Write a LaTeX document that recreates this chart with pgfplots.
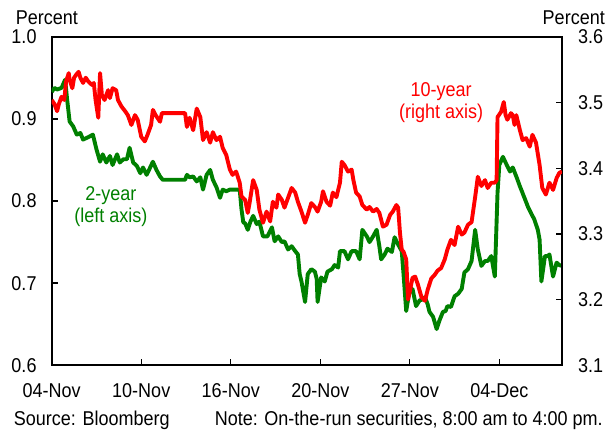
\documentclass[border=0pt]{standalone}
\usepackage{fontspec}
\setmainfont{Liberation Sans}[FakeStretch=0.9]
\usepackage{pgfplots}
\pgfplotsset{compat=1.18}
\newcommand{\chartfont}{\fontsize{20bp}{22bp}\selectfont}
\definecolor{tenred}{RGB}{255,0,0}
\definecolor{twogreen}{RGB}{0,128,0}

\begin{document}
\begin{tikzpicture}
\pgfplotsset{
  every axis/.append style={
    scale only axis, width=510bp, height=328bp,
    xmin=0, xmax=5.70,
    font=\chartfont,
    tick align=inside,
    major tick length=6bp,
    tick style={line width=1.4bp, black},
    axis line style={line width=1.8bp},
    /pgf/number format/assume math mode=true,
  },
}
% left axis: 2-year
\begin{axis}[
  ymin=0.6, ymax=1.0,
  xtick={0,1,2,3,4,5},
  xticklabels={04-Nov,10-Nov,16-Nov,20-Nov,27-Nov,04-Dec},
  ytick={0.6,0.7,0.8,0.9,1.0},
  xtick pos=left, ytick pos=left,
  yticklabel style={/pgf/number format/.cd, fixed, fixed zerofill, precision=1, /tikz/.cd,
    anchor=east, inner sep=0pt, xshift=-15bp},
  xticklabel style={anchor=base, inner sep=0pt, yshift=-32bp},
]
\coordinate (SW) at (rel axis cs:0,0);
\coordinate (NE) at (rel axis cs:1,1);
\coordinate (NW) at (rel axis cs:0,1);
\coordinate (SE) at (rel axis cs:1,0);

\addplot[color=twogreen, line width=3.9bp, line join=round] coordinates {
(0.00,0.933) (0.03,0.938) (0.06,0.936) (0.11,0.938) (0.15,0.948) (0.17,0.926) (0.20,0.897) (0.24,0.891)
(0.28,0.881) (0.32,0.883) (0.35,0.875) (0.41,0.878) (0.46,0.881) (0.50,0.863) (0.54,0.848) (0.57,0.857)
(0.61,0.847) (0.65,0.855) (0.68,0.844) (0.73,0.857) (0.76,0.847) (0.80,0.851) (0.84,0.851) (0.87,0.865)
(0.91,0.847) (0.95,0.843) (0.99,0.834) (1.02,0.841) (1.06,0.832) (1.10,0.841) (1.13,0.848) (1.17,0.838)
(1.21,0.830) (1.24,0.826) (1.32,0.826) (1.41,0.826) (1.49,0.826) (1.51,0.832) (1.54,0.829) (1.58,0.830)
(1.62,0.824) (1.66,0.829) (1.69,0.814) (1.73,0.832) (1.77,0.838) (1.80,0.826) (1.84,0.817) (1.88,0.804)
(1.91,0.814) (1.95,0.812) (1.99,0.814) (2.10,0.814) (2.12,0.790) (2.14,0.774) (2.16,0.773) (2.19,0.765)
(2.22,0.775) (2.25,0.782) (2.29,0.772) (2.32,0.775) (2.36,0.757) (2.41,0.757) (2.46,0.768) (2.49,0.751)
(2.53,0.757) (2.57,0.750) (2.60,0.751) (2.64,0.741) (2.68,0.745) (2.72,0.739) (2.75,0.735) (2.77,0.711)
(2.79,0.702) (2.83,0.677) (2.86,0.711) (2.90,0.717) (2.94,0.714) (2.96,0.705) (2.97,0.677) (3.01,0.707)
(3.05,0.702) (3.08,0.714) (3.13,0.717) (3.16,0.722) (3.20,0.719) (3.22,0.739) (3.27,0.739) (3.31,0.729)
(3.35,0.739) (3.40,0.739) (3.44,0.729) (3.47,0.765) (3.52,0.757) (3.55,0.750) (3.59,0.757) (3.63,0.765)
(3.66,0.745) (3.68,0.729) (3.72,0.735) (3.75,0.742) (3.80,0.738) (3.83,0.756) (3.87,0.747) (3.91,0.739)
(3.93,0.711) (3.96,0.666) (4.00,0.693) (4.03,0.693) (4.07,0.672) (4.11,0.679) (4.14,0.680) (4.17,0.683)
(4.20,0.674) (4.22,0.665) (4.26,0.659) (4.30,0.644) (4.33,0.654) (4.37,0.665) (4.40,0.666) (4.42,0.672)
(4.46,0.671) (4.50,0.684) (4.54,0.687) (4.58,0.693) (4.61,0.713) (4.65,0.717) (4.69,0.727) (4.73,0.765)
(4.76,0.741) (4.80,0.721) (4.84,0.727) (4.87,0.727) (4.91,0.733) (4.95,0.708) (4.98,0.810) (5.00,0.844)
(5.04,0.854) (5.07,0.847) (5.12,0.836) (5.15,0.841) (5.19,0.830) (5.23,0.818) (5.27,0.807) (5.32,0.793)
(5.36,0.784) (5.39,0.778) (5.43,0.765) (5.45,0.753) (5.47,0.702) (5.51,0.733) (5.54,0.733) (5.56,0.735)
(5.60,0.708) (5.64,0.725) (5.67,0.722) (5.70,0.721)
};

\node[text=twogreen, align=center, inner sep=0pt] at (axis cs:0.66,0.793) {2-year\\(left axis)};
\node[text=tenred, align=center, inner sep=0pt] at (axis cs:4.35,0.920) {10-year\\(right axis)};
\end{axis}

% right axis: 10-year
\begin{axis}[
  ymin=3.1, ymax=3.6,
  axis x line=none,
  axis y line*=right,
  ytick={3.1,3.2,3.3,3.4,3.5,3.6},
  yticklabel style={/pgf/number format/.cd, fixed, fixed zerofill, precision=1, /tikz/.cd,
    anchor=west, inner sep=0pt, xshift=16bp},
]
\addplot[color=tenred, line width=3.9bp, line join=round] coordinates {
(0.00,3.504) (0.03,3.498) (0.06,3.487) (0.08,3.498) (0.11,3.509) (0.14,3.504) (0.16,3.532) (0.19,3.545)
(0.20,3.535) (0.23,3.522) (0.25,3.538) (0.27,3.542) (0.30,3.547) (0.32,3.538) (0.35,3.530) (0.38,3.538)
(0.41,3.532) (0.45,3.527) (0.47,3.530) (0.49,3.504) (0.52,3.477) (0.54,3.545) (0.56,3.512) (0.59,3.504)
(0.63,3.519) (0.65,3.507) (0.68,3.522) (0.72,3.519) (0.74,3.504) (0.78,3.494) (0.82,3.487) (0.85,3.481)
(0.89,3.466) (0.93,3.481) (0.96,3.474) (1.00,3.448) (1.04,3.441) (1.07,3.451) (1.11,3.466) (1.13,3.489)
(1.16,3.481) (1.21,3.471) (1.23,3.484) (1.32,3.484) (1.41,3.484) (1.49,3.484) (1.51,3.463) (1.54,3.477)
(1.58,3.458) (1.62,3.491) (1.66,3.478) (1.69,3.443) (1.73,3.455) (1.77,3.439) (1.80,3.455) (1.84,3.443)
(1.88,3.448) (1.91,3.431) (1.95,3.420) (1.99,3.398) (2.02,3.390) (2.06,3.395) (2.10,3.378) (2.12,3.357)
(2.16,3.352) (2.19,3.332) (2.21,3.347) (2.25,3.382) (2.29,3.367) (2.32,3.337) (2.36,3.317) (2.40,3.334)
(2.44,3.319) (2.47,3.349) (2.51,3.340) (2.53,3.360) (2.57,3.352) (2.60,3.340) (2.64,3.355) (2.68,3.370)
(2.72,3.363) (2.75,3.349) (2.79,3.334) (2.83,3.317) (2.86,3.329) (2.90,3.347) (2.94,3.341) (2.97,3.334)
(3.01,3.349) (3.03,3.365) (3.07,3.349) (3.11,3.343) (3.14,3.363) (3.18,3.356) (3.22,3.378) (3.24,3.410)
(3.27,3.405) (3.31,3.395) (3.35,3.398) (3.37,3.382) (3.40,3.363) (3.44,3.357) (3.47,3.344) (3.52,3.337)
(3.55,3.341) (3.59,3.334) (3.63,3.338) (3.66,3.332) (3.70,3.311) (3.74,3.314) (3.78,3.329) (3.81,3.334)
(3.85,3.344) (3.87,3.340) (3.89,3.302) (3.91,3.276) (3.93,3.273) (3.96,3.261) (3.98,3.200) (4.00,3.212)
(4.03,3.233) (4.06,3.235) (4.09,3.223) (4.13,3.204) (4.17,3.198) (4.20,3.215) (4.24,3.232) (4.28,3.238)
(4.31,3.244) (4.35,3.248) (4.39,3.261) (4.42,3.276) (4.46,3.291) (4.50,3.283) (4.54,3.311) (4.58,3.299)
(4.61,3.302) (4.65,3.314) (4.69,3.318) (4.73,3.356) (4.76,3.387) (4.80,3.373) (4.84,3.382) (4.87,3.370)
(4.91,3.378) (4.95,3.378) (4.97,3.382) (4.98,3.478) (5.02,3.486) (5.05,3.501) (5.07,3.481) (5.09,3.474)
(5.13,3.484) (5.15,3.481) (5.17,3.466) (5.19,3.481) (5.23,3.458) (5.26,3.443) (5.30,3.446) (5.34,3.433)
(5.37,3.451) (5.41,3.439) (5.45,3.405) (5.48,3.370) (5.52,3.360) (5.56,3.378) (5.60,3.367) (5.64,3.385)
(5.67,3.393) (5.70,3.395)
};
\end{axis}

\node[font=\chartfont, anchor=west, inner sep=0pt] at ([xshift=-36bp,yshift=19.5bp]NW) {Percent};
\node[font=\chartfont, anchor=east, inner sep=0pt] at ([xshift=43bp,yshift=19.5bp]NE) {Percent};
\node[font=\chartfont, anchor=base west, inner sep=0pt] at ([xshift=-38bp,yshift=-60bp]SW) {Source: Bloomberg};
\node[font=\chartfont, anchor=base east, inner sep=0pt] at ([xshift=41bp,yshift=-60bp]SE) {Note: On-the-run securities, 8:00 am to 4:00 pm.};

\pgfresetboundingbox
\path ([xshift=-51.7bp,yshift=-68bp]SW) rectangle ([xshift=51bp,yshift=37bp]NE);
\end{tikzpicture}
\end{document}
